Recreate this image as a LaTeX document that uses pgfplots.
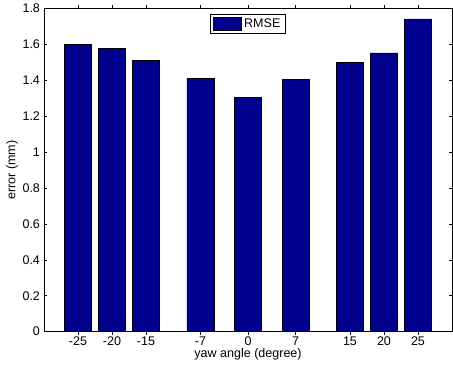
\documentclass[border=0pt]{standalone}
\usepackage{fontspec}
\setmainfont{Liberation Sans}
\usepackage{pgfplots}
\pgfplotsset{compat=1.18}
\definecolor{mblue}{RGB}{0,0,143}
\begin{document}
\begin{tikzpicture}
\begin{axis}[
  scale only axis,
  width=306pt, height=242.25pt,
  xmin=-30, xmax=30, ymin=0, ymax=1.8,
  xtick={-25,-20,-15,-7,0,7,15,20,25},
  ytick={0,0.2,0.4,0.6,0.8,1,1.2,1.4,1.6,1.8},
  tick align=inside, tick pos=both,
  major tick length=2.5pt,
  axis line style={line width=0.7pt},
  tick style={line width=0.5pt, black},
  font=\fontsize{9.4}{11}\selectfont,
  /pgf/number format/assume math mode=true,
  xticklabel style={yshift=2.2pt},
  yticklabel style={xshift=0.5pt},
  xlabel={yaw angle (degree)},
  ylabel={error (mm)},
  xlabel style={at={(axis description cs:0.5,-0.071)}, anchor=center},
  ylabel style={at={(axis description cs:-0.0784,0.5)}, anchor=center},
  ybar, bar width=4, bar shift=0,
  legend style={at={(0.5,1)}, yshift=-4pt, anchor=north, draw=black, line width=0.7pt,
    inner xsep=1.5pt, inner ysep=1pt, font=\fontsize{9.4}{11}\selectfont},
  legend image code/.code={\draw[#1, line width=0.4pt] (0pt,-4.6pt) rectangle (21pt,4.6pt);},
]
\addplot[fill=mblue, draw=black, line width=0.4pt] coordinates {
  (-25,1.602) (-20,1.577) (-15,1.511) (-7,1.412) (0,1.306) (7,1.408) (15,1.502) (20,1.553) (25,1.743)
};
\addlegendentry{RMSE}
\end{axis}
\pgfresetboundingbox
\path[use as bounding box] ([xshift=-33pt,yshift=-25.7pt]current axis.south west) rectangle ([xshift=0.75pt,yshift=6.5pt]current axis.north east);
\end{tikzpicture}
\end{document}
